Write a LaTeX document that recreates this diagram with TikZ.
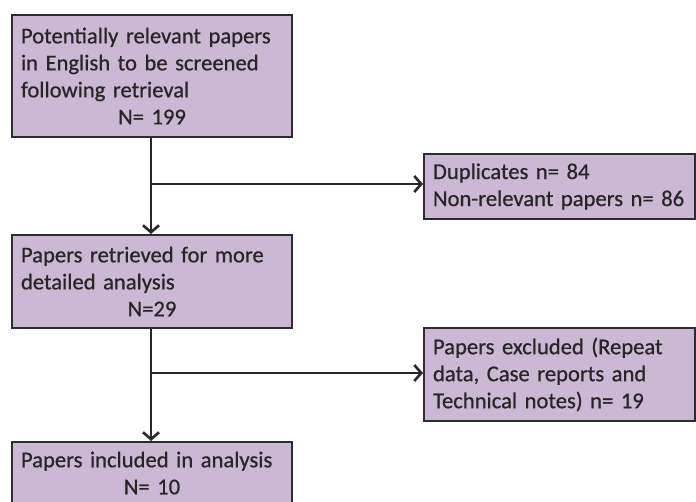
\documentclass[tikz,border=0pt]{standalone}
\usepackage{fontspec}
\setmainfont{Carlito}[FakeBold=0.6]
\usetikzlibrary{arrows.meta,calc}
\definecolor{boxfill}{RGB}{202,184,212}
\definecolor{boxline}{RGB}{48,42,50}
\definecolor{arrowcol}{RGB}{40,40,40}
\tikzset{
  flowbox/.style={draw=boxline, fill=boxfill, line width=2pt, anchor=north west,
    align=left, inner xsep=9pt, inner ysep=0pt,
    font=\fontsize{22.6}{27}\selectfont, text=black!85},
  flowarrow/.style={draw=arrowcol, line width=2.8pt,
    -{Straight Barb[length=7pt,width=16pt,line width=2.6pt]}}
}
\begin{document}
\begin{tikzpicture}[x=1pt,y=-1pt]
\useasboundingbox (0,0) rectangle (696,502);
\clip (0,0) rectangle (696,502);
\node[flowbox, text width=262pt, minimum width=280pt, minimum height=122pt] (b1) at (11,14)
  {Potentially relevant papers\\in English to be screened\\following retrieval\\\hspace*{\fill}N= 199\hspace*{\fill}};
\node[flowbox, text width=253pt, minimum width=271pt, minimum height=65pt] (b2) at (423,153)
  {Duplicates n= 84\\Non-relevant papers n= 86};
\node[flowbox, text width=262pt, minimum width=280pt, minimum height=93pt] (b3) at (11,234)
  {Papers retrieved for more\\detailed analysis\\\hspace*{\fill}N=29\hspace*{\fill}};
\node[flowbox, text width=253pt, minimum width=271pt, minimum height=93pt] (b4) at (423,327)
  {Papers excluded (Repeat\\data, Case reports and\\Technical notes) n= 19};
\node[flowbox, text width=262pt, minimum width=280pt, minimum height=62pt] (b5) at (11,441)
  {Papers included in analysis\\\hspace*{\fill}N= 10\hspace*{\fill}};
\coordinate (j1) at (151,184);
\coordinate (j2) at (151,373);
\draw[flowarrow] (b1.south -| j1) -- (b3.north -| j1);
\draw[flowarrow] (j1) -- (j1 -| b2.west);
\draw[flowarrow] (b3.south -| j2) -- (b5.north -| j2);
\draw[flowarrow] (j2) -- (j2 -| b4.west);
\end{tikzpicture}
\end{document}
